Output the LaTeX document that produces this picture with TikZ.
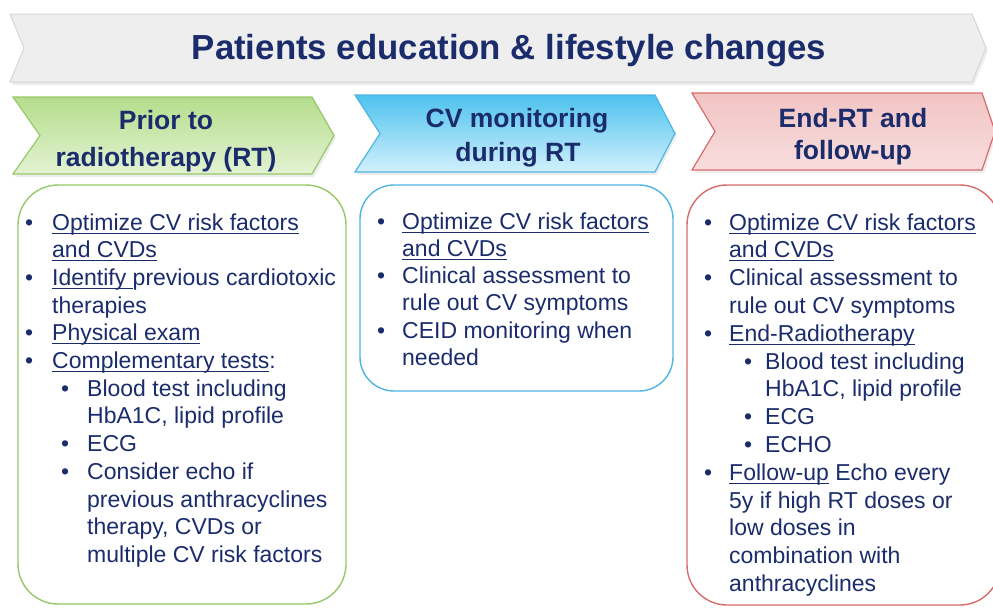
\documentclass[tikz,border=0pt]{standalone}
\usepackage{fontspec}
\setmainfont{Liberation Sans}
\definecolor{navy}{HTML}{1A2C6B}
\definecolor{bannerfill}{HTML}{EEEEEE}
\definecolor{bannerline}{HTML}{D6D6D6}
\definecolor{gtop}{HTML}{B5DD8C}
\definecolor{gbot}{HTML}{E3F3D3}
\definecolor{gline}{HTML}{97C968}
\definecolor{btop}{HTML}{4EC2EE}
\definecolor{bbot}{HTML}{D2F0FC}
\definecolor{bline}{HTML}{4FB5E2}
\definecolor{rtop}{HTML}{F2C4C4}
\definecolor{rbot}{HTML}{F8DDDD}
\definecolor{rline}{HTML}{D66C6A}
\newcommand\uln[1]{\setbox0\hbox{#1}\rlap{\rule[-3.6pt]{\wd0}{1.1pt}}\box0\relax}
\tikzset{
  body/.style={font=\fontsize{23}{27.7}\selectfont, text=navy, inner sep=0pt, anchor=base west},
  hdr/.style={font=\bfseries\fontsize{26.5}{34}\selectfont, text=navy, inner sep=0pt, anchor=base},
  ttl/.style={font=\bfseries\fontsize{34.8}{40}\selectfont, text=navy, inner sep=0pt, anchor=base},
  shadowfill/.style={fill=black, opacity=0.07},
  panel/.style={line width=1.4pt, fill=white, rounded corners=40pt}
}
\begin{document}
\begin{tikzpicture}[x=1pt,y=-1pt]
\useasboundingbox (0,0) rectangle (993,608);
\clip (0,0) rectangle (993,608);
\fill[white] (0,0) rectangle (993,608);

% top banner
\fill[shadowfill] (12,17) -- (974,17) -- (988,51) -- (974,85) -- (12,85) -- (26,51) -- cycle;
\draw[draw=bannerline, fill=bannerfill, line width=1pt] (10,14) -- (972,14) -- (986,48) -- (972,82) -- (10,82) -- (24,48) -- cycle;
\node[ttl] (title) at (509,59) {Patients education \& lifestyle changes};

% chevrons
\fill[shadowfill] (15,100) -- (314,100) -- (336,138) -- (314,177) -- (15,177) -- (42,138) -- cycle;
\shade[top color=gtop, bottom color=gbot] (13,97) -- (312,97) -- (334,135.5) -- (312,174) -- (13,174) -- (40,135.5) -- cycle;
\draw[draw=gline, line width=1.2pt] (13,97) -- (312,97) -- (334,135.5) -- (312,174) -- (13,174) -- (40,135.5) -- cycle;
\node[hdr] (h1a) at (166,129) {Prior to};
\node[hdr] (h1b) at (166,166) {radiotherapy (RT)};

\fill[shadowfill] (357,98) -- (657,98) -- (677,136) -- (657,175) -- (357,175) -- (382,136) -- cycle;
\shade[top color=btop, bottom color=bbot] (355,95) -- (655,95) -- (675,133.5) -- (655,172) -- (355,172) -- (380,133.5) -- cycle;
\draw[draw=bline, line width=1.2pt] (355,95) -- (655,95) -- (675,133.5) -- (655,172) -- (355,172) -- (380,133.5) -- cycle;
\node[hdr] (h2a) at (517,127) {CV monitoring};
\node[hdr] (h2b) at (518,161) {during RT};

\fill[shadowfill] (694,96) -- (984,96) -- (997,134) -- (984,173) -- (694,173) -- (717,134) -- cycle;
\shade[top color=rtop, bottom color=rbot] (692,93) -- (982,93) -- (995,131.5) -- (982,170) -- (692,170) -- (715,131.5) -- cycle;
\draw[draw=rline, line width=1.2pt] (692,93) -- (982,93) -- (995,131.5) -- (982,170) -- (692,170) -- (715,131.5) -- cycle;
\node[hdr] (h3a) at (853,127) {End-RT and};
\node[hdr] (h3b) at (853,159) {follow-up};

% panels
\draw[panel, draw=gline] (18,185) rectangle (346,604);
\draw[panel, draw=bline, rounded corners=34pt] (360,185) rectangle (673,391);
\draw[panel, draw=rline] (687,185) rectangle (1000,605);

\begin{scope}[every node/.style={body}]
% green panel text
\node (gb1) at (25,230) {•};
\node (g1) at (52,230) {\uln{Optimize CV risk factors}};
\node (g2) at (52,257.7) {\uln{and CVDs}};
\node (gb2) at (25,285.4) {•};
\node (g3) at (52,285.4) {\uln{Identify }previous cardiotoxic};
\node (g4) at (52,313.1) {therapies};
\node (gb3) at (25,340.8) {•};
\node (g5) at (52,340.8) {\uln{Physical exam}};
\node (gb4) at (25,368.5) {•};
\node (g6) at (52,368.5) {\uln{Complementary tests}:};
\node (gs1) at (61,396.2) {•};
\node (g7) at (87,396.2) {Blood test including};
\node (g8) at (87,423.9) {HbA1C, lipid profile};
\node (gs2) at (61,451.6) {•};
\node (g9) at (87,451.6) {ECG};
\node (gs3) at (61,479.3) {•};
\node (g10) at (87,479.3) {Consider echo if};
\node (g11) at (87,507) {previous anthracyclines};
\node (g12) at (87,534.7) {therapy, CVDs or};
\node (g13) at (87,562.4) {multiple CV risk factors};

% blue panel text
\node (bb1) at (377,229) {•};
\node (b1) at (402,229) {\uln{Optimize CV risk factors}};
\node (b2) at (402,256.3) {\uln{and CVDs}};
\node (bb2) at (377,283.6) {•};
\node (b3) at (402,283.6) {Clinical assessment to};
\node (b4) at (402,310.9) {rule out CV symptoms};
\node (bb3) at (377,338.2) {•};
\node (b5) at (402,338.2) {CEID monitoring when};
\node (b6) at (402,365.5) {needed};

% red panel text
\node (rb1) at (704,230) {•};
\node (r1) at (729,230) {\uln{Optimize CV risk factors}};
\node (r2) at (729,257.8) {\uln{and CVDs}};
\node (rb2) at (704,285.6) {•};
\node (r3) at (729,285.6) {Clinical assessment to};
\node (r4) at (729,313.4) {rule out CV symptoms};
\node (rb3) at (704,341.2) {•};
\node (r5) at (729,341.2) {\uln{End-Radiotherapy}};
\node (rs1) at (744,369) {•};
\node (r6) at (765,369) {Blood test including};
\node (r7) at (765,396.8) {HbA1C, lipid profile};
\node (rs2) at (744,424.6) {•};
\node (r8) at (765,424.6) {ECG};
\node (rs3) at (744,452.4) {•};
\node (r9) at (765,452.4) {ECHO};
\node (rb4) at (704,480.2) {•};
\node (r10) at (729,480.2) {\uln{Follow-up} Echo every};
\node (r11) at (729,508) {5y if high RT doses or};
\node (r12) at (729,535.8) {low doses in};
\node (r13) at (729,563.6) {combination with};
\node (r14) at (729,591.4) {anthracyclines};
\end{scope}
\end{tikzpicture}
\end{document}
